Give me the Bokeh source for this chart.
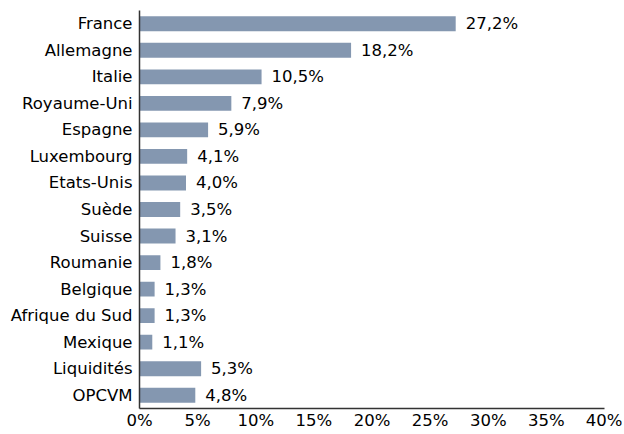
from bokeh.plotting import figure
from bokeh.models import ColumnDataSource, FixedTicker, CustomJSTickFormatter
from bokeh.core.properties import value
from bokeh.embed import file_html
from bokeh.resources import INLINE

categories = ["France", "Allemagne", "Italie", "Royaume-Uni", "Espagne", "Luxembourg",
              "Etats-Unis", "Suède", "Suisse", "Roumanie", "Belgique", "Afrique du Sud",
              "Mexique", "Liquidités", "OPCVM"]
values = [27.2, 18.2, 10.5, 7.9, 5.9, 4.1, 4.0, 3.5, 3.1, 1.8, 1.3, 1.3, 1.1, 5.3, 4.8]
labels = [f"{v:.1f}".replace(".", ",") + "%" for v in values]
x_ticks = [0, 5, 10, 15, 20, 25, 30, 35, 40]

src = ColumnDataSource(dict(cat=categories, val=values, lab=labels))

p = figure(y_range=list(reversed(categories)), x_range=(0, 40),
           frame_width=465, frame_height=398,
           min_border_left=139, min_border_right=18, min_border_top=10, min_border_bottom=2,
           output_backend="svg", toolbar_location=None)

p.hbar(y="cat", right="val", left=0, height=0.56, source=src,
       fill_color="#8497b0", line_color=None)
p.text(x="val", y="cat", text="lab", source=src, x_offset=10,
       text_align="left", text_baseline="middle",
       text_font=value("DejaVu Sans"), text_font_size="16.5px", text_color="#000000")

p.outline_line_color = None
p.grid.visible = False

for ax in (p.xaxis[0], p.yaxis[0]):
    ax.axis_line_color = "#333333"
    ax.axis_line_width = 1.5
    ax.major_tick_line_color = None
    ax.minor_tick_line_color = None
    ax.major_tick_out = 0
    ax.major_tick_in = 0
    ax.major_label_text_font = "DejaVu Sans"
    ax.major_label_text_font_size = "16.5px"
    ax.major_label_text_color = "#000000"

p.yaxis.major_label_standoff = 7
p.xaxis.major_label_standoff = 2
p.xaxis.ticker = FixedTicker(ticks=x_ticks)
p.xaxis.formatter = CustomJSTickFormatter(code="return tick + '%';")

open("out.html", "w").write(file_html(p, INLINE))
